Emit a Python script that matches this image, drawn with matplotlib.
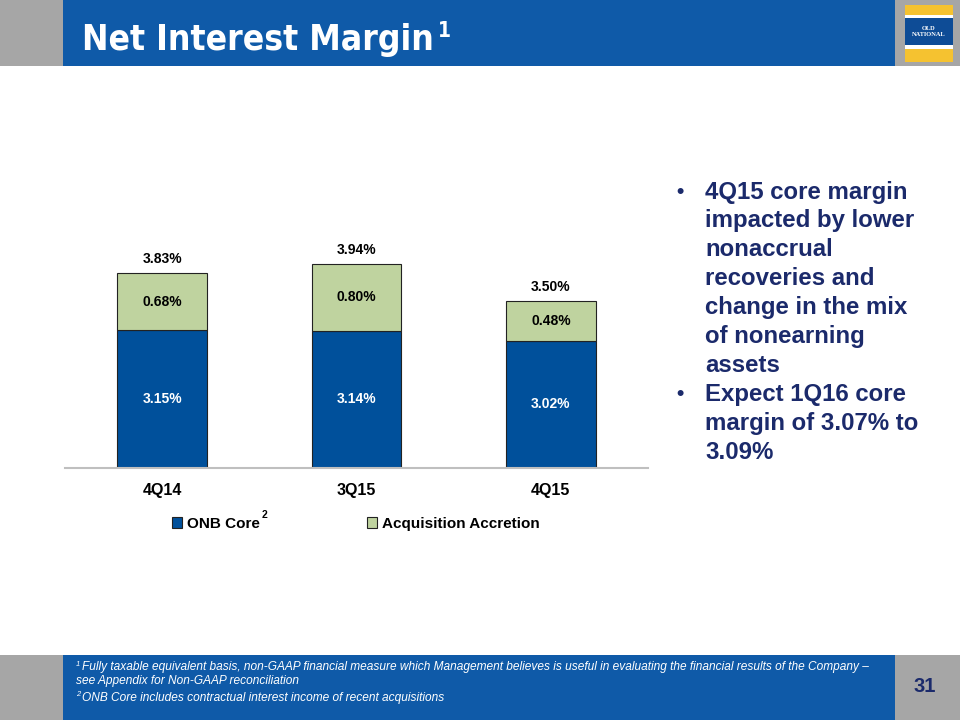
import matplotlib
matplotlib.use('Agg')
import matplotlib.pyplot as plt
from matplotlib.patches import Rectangle, Patch
from matplotlib import font_manager as fm

# chart data (percent)
quarters = ['4Q14', '3Q15', '4Q15']
onb_core = [3.15, 3.14, 3.02]
accretion = [0.68, 0.80, 0.48]
totals = [3.83, 3.94, 3.50]

# bullet text, one entry per drawn line (True = starts a bullet)
bullet_lines = [('4Q15 core margin', True), ('impacted by lower', False), ('nonaccrual', False),
	('recoveries and', False), ('change in the mix', False), ('of nonearning', False),
	('assets', False), ('Expect 1Q16 core', True), ('margin of 3.07% to', False), ('3.09%', False)]
footnote1 = ['Fully taxable equivalent basis, non-GAAP financial measure which Management believes is useful in evaluating the financial results of the Company \u2013',
	'see Appendix for Non-GAAP reconciliation']
footnote2 = 'ONB Core includes contractual interest income of recent acquisitions'

BLUE = '#00509B'
GREEN = '#BFD39F'
NAVY = '#1B2A6B'
HEAD = '#0F5AA8'
GREY = '#A6A6A6'

plt.rcParams['font.family'] = ['Liberation Sans', 'DejaVu Sans']

# look for a narrow bold face for the title (Arial Narrow look), else plain bold
title_font = fm.FontProperties(family='Liberation Sans', weight='bold')
for f in fm.fontManager.ttflist:
	n = (f.name + ' ' + f.fname).lower()
	if ('narrow' in n or 'condensed' in n) and f.weight in (700, 'bold') and f.style == 'normal' \
			and 'mono' not in n and 'serif' not in n.replace('sans', ''):
		title_font = fm.FontProperties(fname=f.fname)
		break

W, H = 960, 720
fig = plt.figure(figsize=(9.6, 7.2), dpi=100)
renderer = fig.canvas.get_renderer()

def fx(x):
	return x / W

def fy(y):
	return 1 - y / H

def box(x0, y0, x1, y1, color):
	fig.add_artist(Rectangle((fx(x0), fy(y1)), fx(x1 - x0), (y1 - y0) / H,
		transform=fig.transFigure, facecolor=color, edgecolor='none', zorder=0))

# header / footer bands
box(0, 0, 63, 66, GREY)
box(63, 0, 895, 66, HEAD)
box(895, 0, 960, 66, GREY)
box(0, 655, 63, 720, GREY)
box(63, 655, 895, 720, HEAD)
box(895, 655, 960, 720, GREY)
# logo
box(905, 5, 953, 15, '#F5C230')
box(905, 15, 953, 18, 'white')
box(905, 18, 953, 45, '#0E4C96')
box(905, 45, 953, 49, 'white')
box(905, 49, 953, 62, '#F5C230')
fig.text(fx(929), fy(31.5), 'OLD\nNATIONAL', color='white', fontsize=4.6, family='Liberation Serif',
	fontweight='bold', ha='center', va='center', linespacing=1.0)

# title: fit to the width it has in the slide, capped at its cap height
title = fig.text(fx(82), fy(50), 'Net Interest Margin', color='white', fontproperties=title_font,
	va='baseline', ha='left')
title.set_fontsize(30)
w = title.get_window_extent(renderer).width
title.set_fontsize(min(34, 30 * 351 / w))
x_end = 82 + title.get_window_extent(renderer).width
sup = fig.text(fx(x_end + 4), fy(37), '1', color='white', fontproperties=title_font, va='baseline', ha='left')
sup.set_fontsize(15)

# chart
ax = fig.add_axes([fx(65), fy(468), fx(648 - 65), (468 - 217) / H])
x = range(len(quarters))
ax.bar(x, onb_core, width=0.46, color=BLUE, edgecolor='#222222', linewidth=0.8, zorder=2)
ax.bar(x, accretion, width=0.46, bottom=onb_core, color=GREEN, edgecolor='#222222',
	linewidth=0.8, zorder=2)
ax.set_ylim(1.5, 4.5)
ax.set_xlim(-0.5, 2.5)

for i in x:
	ax.text(i, (1.5 + onb_core[i]) / 2, '%.2f%%' % onb_core[i], color='white',
		fontsize=10, fontweight='bold', ha='center', va='center')
	ax.text(i, onb_core[i] + accretion[i] / 2, '%.2f%%' % accretion[i], color='black',
		fontsize=10, fontweight='bold', ha='center', va='center')
	ax.text(i, totals[i] + 0.08, '%.2f%%' % totals[i], color='black',
		fontsize=10, fontweight='bold', ha='center', va='bottom')

for s in ['top', 'right', 'left']:
	ax.spines[s].set_visible(False)
ax.spines['bottom'].set_color('#BFBFBF')
ax.spines['bottom'].set_linewidth(1.5)
ax.set_yticks([])
ax.set_xticks(list(x))
ax.set_xticklabels(quarters, fontsize=11.5, fontweight='bold')
ax.tick_params(axis='x', length=0, pad=11)

handles = [Patch(facecolor=BLUE, edgecolor='#222222', linewidth=0.8),
	Patch(facecolor=GREEN, edgecolor='#222222', linewidth=0.8)]
leg = fig.legend(handles, ['ONB Core', 'Acquisition Accretion'], loc='center left',
	bbox_to_anchor=(fx(164), fy(524)), ncol=2, frameon=False, handlelength=0.7,
	handleheight=0.7, handletextpad=0.3, columnspacing=7.0, borderpad=0,
	prop={'weight': 'bold', 'size': 11})
fig.text(fx(262), fy(515), '2', fontsize=7.5, fontweight='bold', ha='left', va='center')

# bullets
for k, (line, first) in enumerate(bullet_lines):
	y = 192 + 28.9 * k
	if first:
		fig.text(fx(676), fy(y), '\u2022', color=NAVY, fontsize=15, fontweight='bold',
			va='center', ha='left')
	fig.text(fx(705), fy(y), line, color=NAVY, fontsize=17.3, fontweight='bold',
		va='center', ha='left')

# footnotes
fig.text(fx(82), fy(667), footnote1[0], color='white', fontsize=8.6, style='italic',
	va='center', ha='left')
fig.text(fx(76), fy(681), footnote1[1], color='white', fontsize=8.6, style='italic',
	va='center', ha='left')
fig.text(fx(82), fy(698), footnote2, color='white', fontsize=8.6, style='italic',
	va='center', ha='left')
fig.text(fx(80), fy(664), '1', color='white', fontsize=5.5, style='italic', va='center', ha='right')
fig.text(fx(80), fy(695), '2', color='white', fontsize=5.5, style='italic', va='center', ha='right')
fig.text(fx(925), fy(687), '31', color=NAVY, fontsize=14.5, fontweight='bold', va='center', ha='center')

fig.savefig('out.png', dpi=100)
